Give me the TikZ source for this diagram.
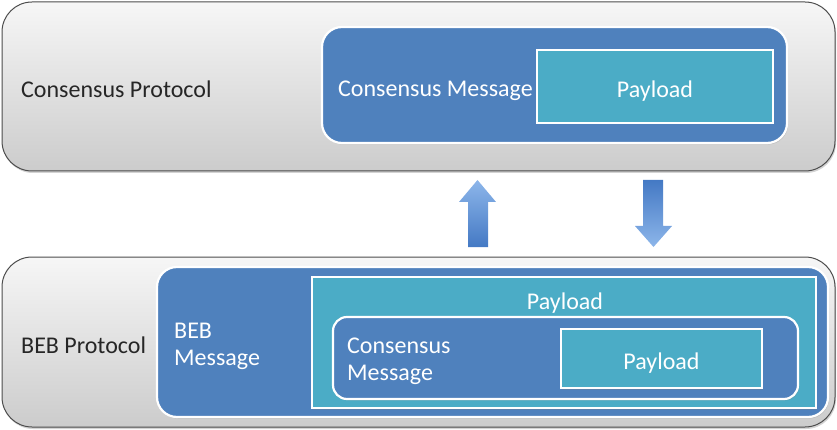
\documentclass[tikz,border=0pt]{standalone}
\usepackage{fontspec}
\setmainfont{Carlito}
\usetikzlibrary{shadows}

\definecolor{msgblue}{HTML}{4F81BD}
\definecolor{payteal}{HTML}{4BACC6}
\definecolor{arrowlight}{HTML}{8DB6EA}
\definecolor{arrowdark}{HTML}{4479C4}

\tikzset{
  layerbox/.style={draw=black!70, line width=1pt, rounded corners=30pt,
    top color=gray!7, bottom color=gray!40, inner sep=0pt,
    drop shadow={shadow xshift=1pt, shadow yshift=-2pt, opacity=0.35}},
  msgbox/.style={fill=msgblue, draw=white, line width=2.2pt, rounded corners=20pt, inner sep=0pt,
    drop shadow={shadow xshift=1pt, shadow yshift=-1.5pt, opacity=0.25}},
  innermsg/.style={msgbox, rounded corners=14pt},
  paybox/.style={fill=payteal, draw=white, line width=2.2pt, inner sep=0pt,
    drop shadow={shadow xshift=1pt, shadow yshift=-1.5pt, opacity=0.25}},
  lbl/.style={font=\fontsize{24}{27}\selectfont, inner sep=0pt},
  darklbl/.style={lbl, text=black!85, anchor=west},
  whitelbl/.style={lbl, text=white, anchor=west, align=left},
  paylbl/.style={lbl, text=white},
  blockarrow/.style={draw=none}
}

\begin{document}
\begin{tikzpicture}[x=1pt, y=-1pt]
\useasboundingbox (0,0) rectangle (837,430);

% upper layer: consensus protocol
\node[layerbox, minimum width=833pt, minimum height=169pt] (toplayer) at (418.5,86.5) {};
\node[darklbl] (toplabel) at (21,89) {Consensus Protocol};
\node[msgbox, minimum width=465pt, minimum height=116pt] (topmsg) at (554.5,85) {};
\node[whitelbl] (topmsglabel) at (338,90.5) {Consensus Message};
\node[paybox, minimum width=236pt, minimum height=73pt] (toppay) at (655,86.5) {};
\node[paylbl] (toppaylabel) at (655,91) {Payload};

% lower layer: BEB protocol
\node[layerbox, minimum width=833pt, minimum height=170pt] (botlayer) at (418.5,342) {};
\node[darklbl] (botlabel) at (21,345) {BEB Protocol};
\node[msgbox, minimum width=671pt, minimum height=150pt] (bebmsg) at (492.5,342) {};
\node[whitelbl] (bebmsglabel) at (174,346.5) {BEB\\Message};
\node[paybox, minimum width=504pt, minimum height=131pt] (bebpay) at (564,342.5) {};
\node[paylbl] (bebpaylabel) at (565,303) {Payload};
\node[innermsg, minimum width=465pt, minimum height=82pt] (innermsg) at (565.5,358) {};
\node[whitelbl] (innermsglabel) at (347,361.5) {Consensus\\Message};
\node[paybox, minimum width=201pt, minimum height=59pt] (innerpay) at (661.5,358.5) {};
\node[paylbl] (innerpaylabel) at (661.5,363.5) {Payload};

% block arrows between the layers
\shade[blockarrow, top color=arrowlight, bottom color=arrowdark]
  (468,247) -- (468,202) -- (459,202) -- (477.5,180) -- (496,202) -- (488,202) -- (488,247) -- cycle;
\shade[blockarrow, top color=arrowdark, bottom color=arrowlight]
  (643,180) -- (663,180) -- (663,226) -- (672,226) -- (653.5,247) -- (635,226) -- (643,226) -- cycle;
\end{tikzpicture}
\end{document}
